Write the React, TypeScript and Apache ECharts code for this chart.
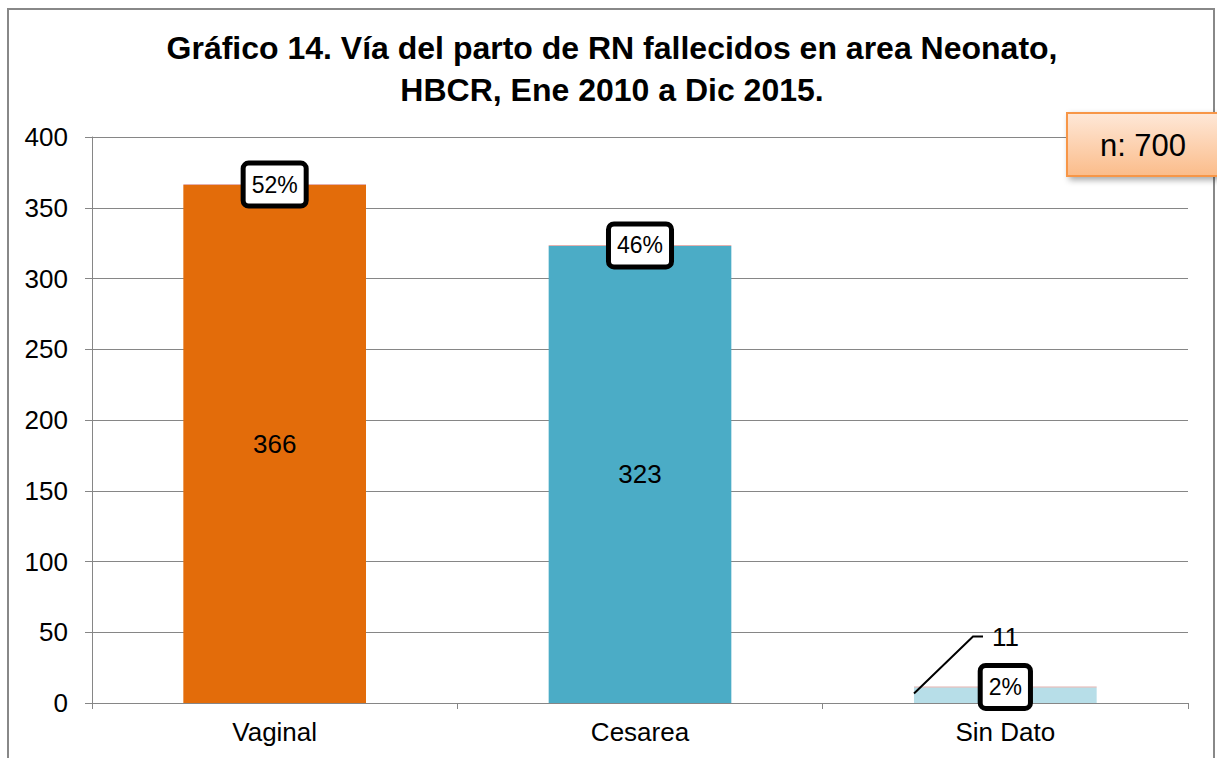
import React, { useEffect, useRef } from "react";
import * as echarts from "echarts";

const categories = ["Vaginal", "Cesarea", "Sin Dato"];
const counts = [366, 323, 11];
const percentages = [52, 46, 2];
const barColors = ["#E36C0A", "#4BACC6", "#B7DEE8"];
const yMin = 0;
const yMax = 400;
const yInterval = 50;
const titleLines = [
  "Gráfico 14. Vía del parto de RN fallecidos en area Neonato,",
  "HBCR, Ene 2010 a Dic 2015.",
];
const totalLabel = "n: 700";

const FONT = "'Liberation Sans', Arial, sans-serif";

export default function App() {
  const ref = useRef<HTMLDivElement>(null);

  useEffect(() => {
    document.body.style.margin = "0";
    const chart = echarts.init(ref.current as HTMLDivElement, null, { renderer: "svg" });

    const option: any = {
      animation: false,
      backgroundColor: "#ffffff",
      textStyle: { fontFamily: FONT, color: "#000" },
      title: {
        text: titleLines.join("\n"),
        left: 612,
        textAlign: "center",
        top: 27,
        padding: 0,
        textStyle: {
          fontFamily: FONT,
          fontSize: 32,
          fontWeight: "bold",
          lineHeight: 42,
          color: "#000",
        },
      },
      grid: { left: 92, right: 29, top: 137, bottom: 55, containLabel: false },
      xAxis: {
        type: "category",
        data: categories,
        axisLine: { lineStyle: { color: "#868686", width: 1 } },
        axisTick: { show: true, length: 6, lineStyle: { color: "#868686" } },
        axisLabel: { fontSize: 26, color: "#000", margin: 16, fontFamily: FONT },
      },
      yAxis: {
        type: "value",
        min: yMin,
        max: yMax,
        interval: yInterval,
        axisLine: { show: true, lineStyle: { color: "#868686", width: 1 } },
        axisTick: { show: true, length: 7, lineStyle: { color: "#868686" } },
        axisLabel: { fontSize: 26, color: "#000", margin: 24, fontFamily: FONT },
        splitLine: { show: true, lineStyle: { color: "#868686", width: 1 } },
      },
      series: [
        {
          name: "Casos",
          type: "bar",
          stack: "total",
          barWidth: "50%",
          z: 2,
          data: counts.map((v, i) => ({
            value: v,
            itemStyle: { color: barColors[i] },
            label: { show: v > 30 },
          })),
          label: {
            show: true,
            position: "inside",
            fontSize: 26,
            color: "#000",
            fontFamily: FONT,
          },
        },
        {
          name: "Porcentaje",
          type: "bar",
          stack: "total",
          barWidth: "50%",
          barMinHeight: 1,
          z: 3,
          itemStyle: { color: "rgba(192,80,77,0.45)" },
          data: percentages.map((p) => p / 100),
          label: {
            show: true,
            position: "inside",
            formatter: (p: any) => percentages[p.dataIndex] + "%",
            fontSize: 23,
            color: "#000",
            fontFamily: FONT,
            backgroundColor: "#ffffff",
            borderColor: "#000000",
            borderWidth: 5,
            borderRadius: 3,
            padding: [8, 6, 7, 6],
            lineHeight: 23,
          },
        },
      ],
    };

    chart.setOption(option);

    // leader label for the small category
    const idx = 2;
    const p1 = chart.convertToPixel({ gridIndex: 0 }, [categories[idx], counts[idx]]) as number[];
    const p0 = chart.convertToPixel({ gridIndex: 0 }, [categories[idx - 1], counts[idx]]) as number[];
    const band = p1[0] - p0[0];
    const barLeft = p1[0] - band / 4;
    const topY = p1[1];

    chart.setOption({
      graphic: [
        {
          type: "rect",
          silent: true,
          z: 0,
          shape: { x: 8, y: 9, width: 1206, height: 800 },
          style: { fill: "none", stroke: "#888888", lineWidth: 2 },
        },
        {
          type: "polyline",
          silent: true,
          z: 10,
          shape: {
            points: [
              [barLeft, topY + 6],
              [barLeft + 59, topY - 51],
              [barLeft + 69, topY - 51],
            ],
          },
          style: { stroke: "#000", lineWidth: 2, fill: "none" },
        },
        {
          type: "text",
          silent: true,
          z: 10,
          x: barLeft + 78,
          y: topY - 50,
          style: {
            text: String(counts[idx]),
            fontSize: 26,
            fontFamily: FONT,
            fill: "#000",
            verticalAlign: "middle",
            align: "left",
          },
        },
        {
          type: "rect",
          silent: true,
          z: 20,
          shape: { x: 1067, y: 113, width: 170, height: 63 },
          style: {
            fill: new echarts.graphic.LinearGradient(0, 0, 0, 1, [
              { offset: 0, color: "#FEE8D8" },
              { offset: 1, color: "#FBBC8A" },
            ]),
            stroke: "#F79646",
            lineWidth: 2,
            shadowBlur: 6,
            shadowOffsetX: 3,
            shadowOffsetY: 3,
            shadowColor: "rgba(0,0,0,0.35)",
          },
        },
        {
          type: "text",
          silent: true,
          z: 21,
          x: 1143,
          y: 145,
          style: {
            text: totalLabel,
            fontSize: 31,
            fontFamily: FONT,
            fill: "#000",
            align: "center",
            verticalAlign: "middle",
          },
        },
      ],
    });

    return () => {
      chart.dispose();
    };
  }, []);

  return <div ref={ref} style={{ width: 1217, height: 758 }} />;
}
